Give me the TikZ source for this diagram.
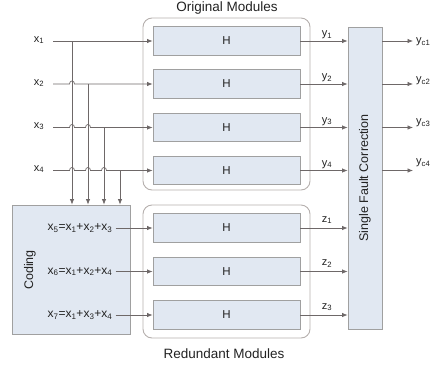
\documentclass[tikz,border=0pt]{standalone}
\usepackage{fontspec}
\setmainfont{Liberation Sans}
\usetikzlibrary{arrows.meta,calc}
\definecolor{boxfill}{HTML}{E1E8F2}
\definecolor{boxline}{HTML}{A0A0A0}
\definecolor{groupline}{HTML}{B5AFAD}
\definecolor{wirecol}{HTML}{6E6868}
\definecolor{inkcol}{HTML}{222222}
\newcommand{\sub}[1]{\textsubscript{#1}}
\tikzset{
  hbox/.style={draw=boxline, fill=boxfill, line width=0.9pt, minimum width=147pt,
    minimum height=28.5pt, inner sep=0pt, font=\fontsize{11.5}{13}\selectfont, text=inkcol},
  cbox/.style={draw=boxline, fill=boxfill, line width=0.9pt, inner sep=0pt, text=inkcol},
  group/.style={draw=groupline, line width=0.9pt, rounded corners=9pt, inner sep=0pt},
  wire/.style={draw=wirecol, line width=0.7pt},
  arr/.style={wire, -{Latex[length=5.5pt,width=4.5pt]}},
  lbl/.style={inner sep=0pt, text=inkcol, font=\fontsize{11}{13}\selectfont},
  eqn/.style={inner sep=0pt, text=inkcol, font=\fontsize{12}{14}\selectfont},
  title/.style={inner sep=0pt, text=inkcol, font=\fontsize{13.5}{15}\selectfont},
  vtitle/.style={inner sep=0pt, text=inkcol, rotate=90, font=\fontsize{12.5}{14}\selectfont},
}
\begin{document}
\begin{tikzpicture}[x=1pt, y=-1pt]
\useasboundingbox (0,0) rectangle (439,365);

% module groups
\node[group, minimum width=167pt, minimum height=172pt] (orig) at (226.5,104) {};
\node[group, minimum width=167pt, minimum height=133pt] (red) at (226.5,271.5) {};
\node[title] (origtitle) at (227,8) {Original Modules};
\node[title] (redtitle) at (224,354) {Redundant Modules};

% original modules
\node[hbox] (h1) at (226.5,41) {H};
\node[hbox] (h2) at (226.5,84) {H};
\node[hbox] (h3) at (226.5,127.5) {H};
\node[hbox] (h4) at (226.5,170.5) {H};

% redundant modules
\node[hbox] (r1) at (226.5,228) {H};
\node[hbox] (r2) at (226.5,271.5) {H};
\node[hbox] (r3) at (226.5,315) {H};

% coding block
\node[cbox, minimum width=118pt, minimum height=129pt] (cod) at (71,269.5) {};
\node[vtitle] (codtxt) at (30,270) {Coding};
\node[eqn] (e5) at (80,228) {x\sub{5}=x\sub{1}+x\sub{2}+x\sub{3}};
\node[eqn] (e6) at (80,271.5) {x\sub{6}=x\sub{1}+x\sub{2}+x\sub{4}};
\node[eqn] (e7) at (80,315) {x\sub{7}=x\sub{1}+x\sub{3}+x\sub{4}};

% correction block
\node[cbox, minimum width=34pt, minimum height=302pt] (sfc) at (365,178) {};
\node[vtitle] (sfctxt) at (365,178) {Single Fault Correction};

% inputs
\node[lbl] (x1) at (39,40) {x\sub{1}};
\node[lbl] (x2) at (39,83) {x\sub{2}};
\node[lbl] (x3) at (39,126) {x\sub{3}};
\node[lbl] (x4) at (39,169) {x\sub{4}};

% taps on the input lines
\coordinate (t1) at (72,41);
\coordinate (t2) at (88,84);
\coordinate (t3) at (104,127.5);
\coordinate (t4) at (120,170.5);

% input lines, hopping over the taps they cross
\draw[arr] (53,41) -- (h1.west);
\draw[arr] (53,84) -- (69.5,84) .. controls (69.5,80) and (74.5,80) .. (74.5,84) -- (h2.west);
\draw[arr] (53,127.5) -- (69.5,127.5) .. controls (69.5,123.5) and (74.5,123.5) .. (74.5,127.5)
  -- (85.5,127.5) .. controls (85.5,123.5) and (90.5,123.5) .. (90.5,127.5) -- (h3.west);
\draw[arr] (53,170.5) -- (69.5,170.5) .. controls (69.5,166.5) and (74.5,166.5) .. (74.5,170.5)
  -- (85.5,170.5) .. controls (85.5,166.5) and (90.5,166.5) .. (90.5,170.5)
  -- (101.5,170.5) .. controls (101.5,166.5) and (106.5,166.5) .. (106.5,170.5) -- (h4.west);

\foreach \i in {1,...,4}
  \draw[arr] (t\i) -- (t\i |- cod.north);

% coded inputs
\draw[arr] ([xshift=3pt]e5.east) -- (e5.east -| r1.west);
\draw[arr] ([xshift=3pt]e6.east) -- (e6.east -| r2.west);
\draw[arr] ([xshift=3pt]e7.east) -- (e7.east -| r3.west);

% module outputs
\draw[arr] (h1.east) -- (h1.east -| sfc.west);
\draw[arr] (h2.east) -- (h2.east -| sfc.west);
\draw[arr] (h3.east) -- (h3.east -| sfc.west);
\draw[arr] (h4.east) -- (h4.east -| sfc.west);
\draw[arr] (r1.east) -- (r1.east -| sfc.west);
\draw[arr] (r2.east) -- (r2.east -| sfc.west);
\draw[arr] (r3.east) -- (r3.east -| sfc.west);

\node[lbl] (y1) at (327,35) {y\sub{1}};
\node[lbl] (y2) at (327,78) {y\sub{2}};
\node[lbl] (y3) at (327,121.5) {y\sub{3}};
\node[lbl] (y4) at (327,164.5) {y\sub{4}};
\node[lbl] (z1) at (327,220) {z\sub{1}};
\node[lbl] (z2) at (327,263.5) {z\sub{2}};
\node[lbl] (z3) at (327,307) {z\sub{3}};

% corrected outputs
\coordinate (o1) at (413,41);
\coordinate (o2) at (413,84);
\coordinate (o3) at (413,127.5);
\coordinate (o4) at (413,170.5);
\foreach \i in {1,...,4}
  \draw[arr] (o\i -| sfc.east) -- (o\i);

\node[lbl, anchor=west] (yc1) at (416,42) {y\sub{c1}};
\node[lbl, anchor=west] (yc2) at (416,81) {y\sub{c2}};
\node[lbl, anchor=west] (yc3) at (416,123) {y\sub{c3}};
\node[lbl, anchor=west] (yc4) at (416,163) {y\sub{c4}};
\end{tikzpicture}
\end{document}
